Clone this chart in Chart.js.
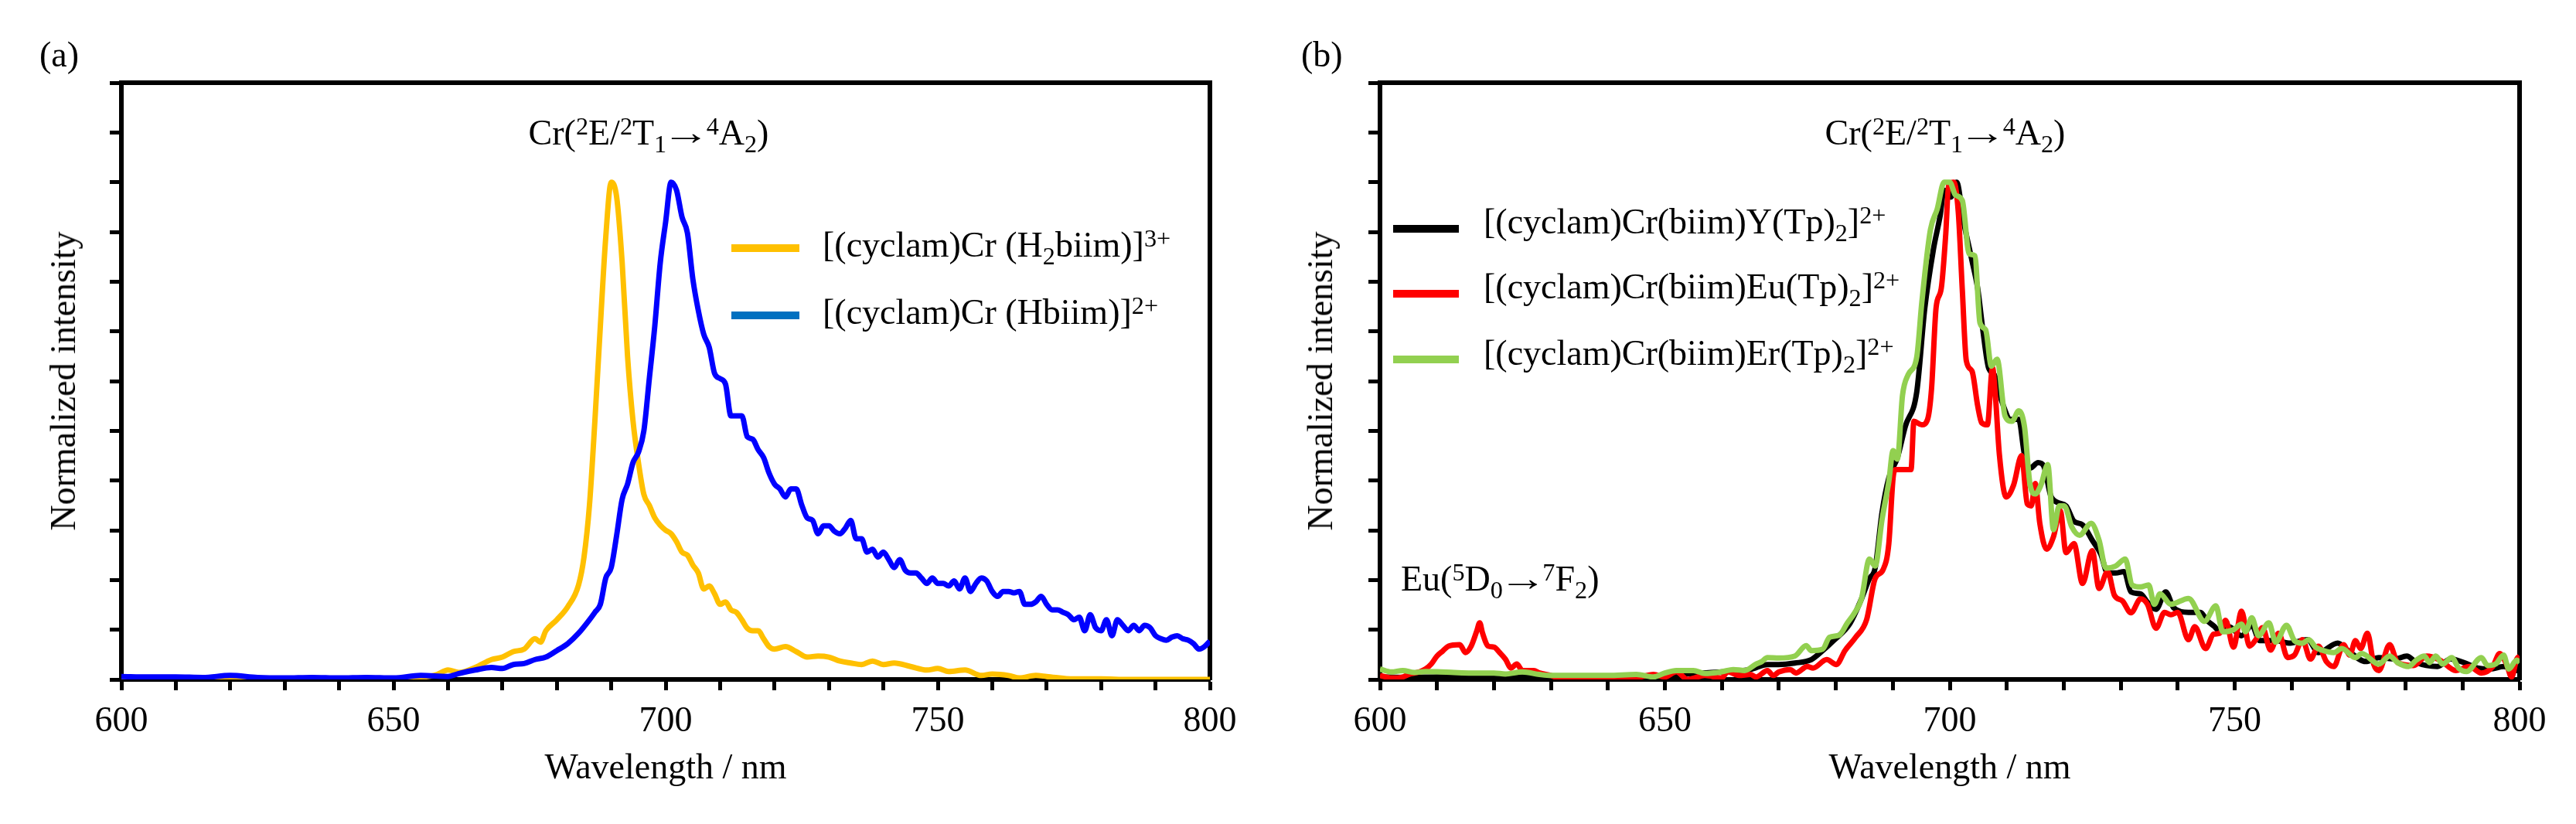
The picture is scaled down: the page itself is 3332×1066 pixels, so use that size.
<!DOCTYPE html>
<html><head><meta charset="utf-8">
<script src="https://cdn.jsdelivr.net/npm/chart.js@4.4.1/dist/chart.umd.min.js"></script>
<style>
html,body{margin:0;background:#fff;}
body{width:3332px;height:1066px;position:relative;overflow:hidden;font-family:'Times New Roman','Liberation Serif',serif;font-size:46px;color:#000;}
canvas{position:absolute;top:0;}
.t{position:absolute;line-height:1;white-space:nowrap;}
.t sup,.t sub{font-size:0.7em;vertical-align:baseline;position:relative;line-height:0;}
.t sup{top:-0.4em;}
.t sub{top:0.3em;}
.ar{display:inline-block;transform:scaleX(1.35);margin:0 0.06em;}
.c{transform:translateX(-50%);}
.yt{transform:translate(-50%,-50%) rotate(-90deg);}
.sw{position:absolute;height:10px;}
</style></head><body>
<canvas id="ca" width="1666" height="1066" style="left:0"></canvas>
<canvas id="cb" width="1666" height="1066" style="left:1666px"></canvas>

<!-- panel (a) texts -->
<div class="t" style="left:51px;top:48px">(a)</div>
<div class="t yt" style="left:82px;top:493px">Normalized intensity</div>
<div class="t c" style="left:839px;top:149px">Cr(<sup>2</sup>E/<sup>2</sup>T<sub>1</sub><span class="ar">→</span><sup>4</sup>A<sub>2</sub>)</div>
<div class="sw" style="left:946px;top:316px;width:88px;background:#FFC000"></div>
<div class="t" style="left:1064px;top:294px">[(cyclam)Cr (H<sub>2</sub>biim)]<sup>3+</sup></div>
<div class="sw" style="left:946px;top:403px;width:88px;background:#0070C0"></div>
<div class="t" style="left:1064px;top:381px">[(cyclam)Cr (Hbiim)]<sup>2+</sup></div>

<!-- panel (b) texts -->
<div class="t" style="left:1683px;top:48px">(b)</div>
<div class="t yt" style="left:1708px;top:493px">Normalized intensity</div>
<div class="t c" style="left:2516px;top:149px">Cr(<sup>2</sup>E/<sup>2</sup>T<sub>1</sub><span class="ar">→</span><sup>4</sup>A<sub>2</sub>)</div>
<div class="t" style="left:1812px;top:726px">Eu(<sup>5</sup>D<sub>0</sub><span class="ar">→</span><sup>7</sup>F<sub>2</sub>)</div>
<div class="sw" style="left:1802px;top:291px;width:85px;background:#000000"></div>
<div class="t" style="left:1919px;top:264px">[(cyclam)Cr(biim)Y(Tp)<sub>2</sub>]<sup>2+</sup></div>
<div class="sw" style="left:1802px;top:375px;width:85px;background:#FF0000"></div>
<div class="t" style="left:1919px;top:348px">[(cyclam)Cr(biim)Eu(Tp)<sub>2</sub>]<sup>2+</sup></div>
<div class="sw" style="left:1802px;top:460px;width:85px;background:#92D050"></div>
<div class="t" style="left:1919px;top:434px">[(cyclam)Cr(biim)Er(Tp)<sub>2</sub>]<sup>2+</sup></div>

<script>
// ── DATA (a) ─────────────────────────────────────
const wlH2biim = [600,610,620,630,640,650,655,658,660,662,
  665,668,670,672,674,676,677,678,680,682,
  684,685,686,687,688,689,690,691,692,693,
  694,695,696,697,698,699,700,701,702,703,
  704,705,706,707,708,709,710,711,712,713,
  714,715,716,717,718,719,720,722,724,726,
  728,730,732,734,736,738,740,742,745,748,
  750,752,755,758,760,763,765,768,770,775,
  780,785,790,800];
const intH2biim = [0,0.002,0,0.001,0,0.002,0.004,0.01,0.019,0.014,
  0.024,0.04,0.045,0.056,0.061,0.082,0.075,0.098,0.12,0.146,
  0.19,0.246,0.35,0.52,0.71,0.89,1.0,0.97,0.84,0.65,
  0.52,0.436,0.372,0.35,0.325,0.31,0.30,0.293,0.277,0.256,
  0.25,0.23,0.214,0.182,0.188,0.172,0.151,0.156,0.14,0.135,
  0.12,0.103,0.098,0.098,0.082,0.066,0.061,0.066,0.056,0.045,
  0.047,0.045,0.037,0.033,0.03,0.037,0.03,0.033,0.026,0.019,
  0.022,0.016,0.019,0.008,0.011,0.008,0.003,0.008,0.006,0.001,
  0.001,0,0,0];

const wlHbiim = [600,605,610,615,620,625,630,635,640,645,
  650,655,660,662,665,668,670,672,674,676,
  678,680,682,684,686,
  687,688,689,690,691,692,693,694,695,696,
  697,698,699,700,701,702,703,704,705,706,
  707,708,709,710,711,712,713,714,715,716,
  717,718,719,720,721,722,723,724,725,726,
  727,728,729,730,731,732,733,734,735,736,
  737,738,739,740,741,742,743,744,745,746,
  747,748,749,750,751,752,753,754,755,756,
  757,758,759,760,761,762,763,764,765,766,
  767,768,769,770,771,772,773,774,775,776,
  777,778,779,780,781,782,783,784,785,786,
  787,788,789,790,791,792,793,794,795,796,
  797,798,799,800];
const intHbiim = [0.006,0.005,0.005,0.004,0.008,0.004,0.003,0.004,0.003,0.004,
  0.003,0.008,0.006,0.012,0.019,0.024,0.022,0.03,0.032,0.04,
  0.045,0.058,0.072,0.093,0.12,
  0.135,0.151,0.204,0.225,0.29,0.362,0.393,0.436,0.457,0.50,
  0.605,0.71,0.837,0.92,1.0,0.984,0.93,0.898,0.805,0.742,
  0.694,0.668,0.615,0.605,0.594,0.53,0.53,0.53,0.488,0.483,
  0.462,0.446,0.415,0.393,0.383,0.367,0.383,0.383,0.351,0.325,
  0.32,0.293,0.309,0.309,0.298,0.293,0.304,0.32,0.283,0.283,
  0.256,0.262,0.246,0.256,0.241,0.225,0.241,0.22,0.214,0.214,
  0.204,0.193,0.204,0.193,0.193,0.188,0.198,0.182,0.204,0.177,
  0.193,0.204,0.198,0.177,0.167,0.177,0.177,0.174,0.177,0.151,
  0.151,0.156,0.167,0.151,0.14,0.14,0.135,0.13,0.12,0.125,
  0.098,0.13,0.104,0.098,0.12,0.088,0.12,0.109,0.098,0.109,
  0.098,0.109,0.104,0.088,0.082,0.079,0.085,0.088,0.082,0.079,
  0.072,0.061,0.066,0.077];

// ── DATA (b) ─────────────────────────────────────
const wlY = [600,605,610,615,620,625,630,635,640,645,
  650,655,660,665,668,670,672.8,675.7,677.7,679.6,
  682.5,684.5,685.9,686.9,688.1,689.3,690.8,692.2,694.2,695.6,
  697.1,698.3,699,700.2,701.2,702.4,703.9,704.9,705.8,706.8,
  707.8,709.2,710.7,712.1,713.1,714.1,715.5,716.5,717.7,718.9,
  720.4,721.8,723.3,725,726.5,727.7,729.1,730.6,731.8,733.5,
  734.7,736.2,737.9,739.3,741.9,744,745.1,746.5,747,749,
  751.2,753,754.4,757.2,759.5,762.8,764.7,768.1,769.8,773,
  775.3,778.1,780.2,781.9,785.6,787.9,790.2,792.6,794.9,797.2,
  799.5,800];
const intY = [0.005,0.004,0.005,0.005,0.006,0.005,0.004,0.004,0.005,0.006,
  0.008,0.012,0.015,0.02,0.03,0.03,0.033,0.04,0.058,0.078,
  0.113,0.162,0.203,0.224,0.335,0.405,0.446,0.509,0.578,0.745,
  0.863,0.932,0.984,0.97,1.0,0.922,0.842,0.786,0.703,0.627,
  0.613,0.557,0.523,0.523,0.453,0.425,0.436,0.429,0.37,0.356,
  0.349,0.318,0.311,0.28,0.252,0.214,0.214,0.217,0.176,0.172,
  0.155,0.141,0.176,0.144,0.135,0.135,0.119,0.106,0.1,0.106,
  0.088,0.109,0.078,0.078,0.073,0.08,0.054,0.073,0.059,0.036,
  0.044,0.041,0.047,0.034,0.026,0.041,0.034,0.023,0.021,0.026,
  0.018,0.026];

const wlEu = [600,602,604,605,607,608,609,610,611,612,
  614,615,616,617,617.5,618,619,620,621,622,
  623,624,625,627,628,630,632,635,638,640,
  642,645,648,650,652,654,657,660,661,663,
  665,666,668,669,670,672,673,675,676,678.4,
  680.1,681.6,683.5,685.4,686.9,688.3,689.3,690.05,690.5,693.2,
  693.7,695.1,696.1,696.8,697.6,698.5,699.3,699.8,700.7,701.5,
  702.2,702.9,703.9,704.9,705.6,706.6,707.5,708,708.7,709.9,
  711.2,712.6,713.6,714.3,715,715.8,717,718.2,719.4,720.4,
  721.8,723.3,725,726.2,727.7,728.9,730.3,731.8,733.5,734.7,
  736.2,737.7,738.8,740,741.9,743,744.9,746.3,747.4,748.4,
  749.8,751.2,752.6,753.7,754.9,756.3,757.7,759.3,760.5,761.9,
  763.3,764.7,766.1,767.4,769.1,770.2,771.2,772.1,773.3,774.4,
  775.3,777.2,778.6,781.4,783.7,786,788.8,791.2,793.3,795.3,
  796.5,797.7,798.6,799.5,800];
const intEu = [0.008,0.003,0.005,0.01,0.0155,0.021,0.031,0.047,0.057,0.067,
  0.07,0.054,0.067,0.098,0.114,0.093,0.067,0.065,0.054,0.041,
  0.023,0.031,0.018,0.018,0.013,0.008,0,0.003,0,0.005,
  0,0.003,0.01,0.005,0.0155,0,0.008,0.003,0.0155,0.008,
  0.01,0.005,0.018,0.008,0.015,0.02,0.013,0.026,0.023,0.04,
  0.03,0.058,0.085,0.12,0.203,0.221,0.273,0.405,0.422,0.422,
  0.519,0.512,0.523,0.585,0.748,0.786,0.897,0.995,1.0,0.939,
  0.783,0.641,0.62,0.55,0.516,0.512,0.627,0.571,0.453,0.367,
  0.391,0.45,0.353,0.349,0.394,0.314,0.262,0.287,0.339,0.255,
  0.273,0.193,0.259,0.183,0.217,0.169,0.158,0.134,0.162,0.151,
  0.103,0.135,0.13,0.135,0.08,0.106,0.062,0.091,0.093,0.119,
  0.065,0.137,0.067,0.08,0.104,0.059,0.093,0.044,0.049,0.08,
  0.041,0.067,0.036,0.026,0.07,0.049,0.078,0.062,0.093,0.031,
  0.018,0.07,0.034,0.028,0.047,0.039,0.018,0.026,0.013,0.026,
  0.052,0.031,0.005,0.041,0.047];

const wlEr = [600,602,604,606,608,610,613,616,620,622,
  625,628,630,635,640,645,648,650,652,655,
  657,660,662,664,666,667,668,670,672.8,674.8,
  675.7,677.7,678.9,680.6,682,683.3,684.5,685.9,686.9,688.1,
  689.3,690.05,690.8,691.7,692.7,694.2,695.1,696.6,697.8,699,
  700,701,702.2,703.4,704.4,705.3,706.3,707.3,708.3,709.7,
  710.9,712.1,713.1,714.1,715,716,717.2,718.2,719.2,720.1,
  721.4,722.8,724.8,726.2,727.4,729.1,730.8,732,733.5,734.9,
  735.9,736.9,738.8,741.9,744.7,746.7,747.9,749.8,751.2,751.9,
  753,754.2,756,757.2,759.1,760.5,761.9,763,764.2,765.3,
  767.4,768.8,771.2,772.3,775.3,777.2,778.6,780.5,781.9,783.3,
  784.2,785.3,786.5,788.1,789.3,790.7,793.3,794.4,795.8,797.2,
  798.1,799.5,800];
const intEr = [0.021,0.015,0.018,0.014,0.016,0.0155,0.014,0.013,0.013,0.011,
  0.015,0.01,0.008,0.008,0.008,0.01,0.005,0.013,0.018,0.018,
  0.012,0.0155,0.02,0.018,0.031,0.036,0.044,0.043,0.047,0.068,
  0.058,0.061,0.085,0.089,0.113,0.134,0.162,0.242,0.228,0.321,
  0.398,0.46,0.443,0.571,0.613,0.648,0.759,0.904,0.946,1.0,
  1.0,0.974,0.963,0.856,0.852,0.717,0.703,0.63,0.644,0.53,
  0.519,0.54,0.509,0.391,0.373,0.391,0.432,0.301,0.349,0.349,
  0.307,0.29,0.314,0.28,0.224,0.228,0.242,0.19,0.186,0.19,
  0.151,0.172,0.151,0.163,0.117,0.148,0.096,0.1,0.111,0.096,
  0.124,0.088,0.114,0.075,0.109,0.078,0.073,0.08,0.065,0.059,
  0.054,0.062,0.044,0.052,0.031,0.047,0.034,0.026,0.039,0.047,
  0.034,0.047,0.031,0.044,0.023,0.016,0.044,0.028,0.031,0.049,
  0.021,0.039,0.034];

// ── HELPERS ──────────────────────────────────────
const FONT = "'Times New Roman','Liberation Serif',serif";
const pts = (xs, ys) => xs.map((x, i) => ({x, y: ys[i]}));
const line = (label, xs, ys, color, order) => ({
  label, data: pts(xs, ys), borderColor: color, backgroundColor: color,
  borderWidth: 7, pointRadius: 0, cubicInterpolationMode: 'monotone',
  order, xAxisID: 'x', yAxisID: 'y',
});
const frame = {display: true, color: '#000', width: 6};

function panel(id, padL, padR, datasets) {
  return new Chart(document.getElementById(id), {
    type: 'line',
    data: {datasets},
    options: {
      responsive: false, animation: false,
      layout: {padding: {left: padL, right: padR, top: 107, bottom: 43}},
      plugins: {legend: {display: false}, tooltip: {enabled: false}},
      scales: {
        x: {
          type: 'linear', position: 'bottom', min: 600, max: 800,
          border: frame,
          grid: {drawOnChartArea: false, drawTicks: true, tickLength: 14, tickWidth: 5, tickColor: '#000'},
          ticks: {stepSize: 10, autoSkip: false, maxRotation: 0, padding: 13, color: '#000',
            font: {family: FONT, size: 46}, callback: v => v % 50 === 0 ? String(v) : ''},
          title: {display: true, text: 'Wavelength / nm', color: '#000', padding: 0, font: {family: FONT, size: 46}},
          afterFit: s => { s.height = 144; },
        },
        y: {
          type: 'linear', position: 'left', min: 0, max: 1.2,
          border: frame,
          grid: {drawOnChartArea: false, drawTicks: true, tickLength: 15, tickWidth: 5, tickColor: '#000'},
          ticks: {display: false, stepSize: 0.1},
          afterFit: s => { s.width = 45; },
        },
        xT: {
          type: 'linear', position: 'top', min: 600, max: 800,
          border: frame, grid: {display: false}, ticks: {display: false},
          afterFit: s => { s.height = 0; },
        },
        yR: {
          type: 'linear', position: 'right', min: 0, max: 1.2,
          border: frame, grid: {display: false}, ticks: {display: false},
          afterFit: s => { s.width = 45; },
        },
      },
    },
  });
}

// ── CHARTS ───────────────────────────────────────
panel('ca', 112, 56, [
  line('[(cyclam)Cr (H2biim)]3+', wlH2biim, intH2biim, '#FFC000', 2),
  line('[(cyclam)Cr (Hbiim)]2+', wlHbiim, intHbiim, '#0000FF', 1),
]);
panel('cb', 74, 28, [
  line('[(cyclam)Cr(biim)Y(Tp)2]2+', wlY, intY, '#000000', 3),
  line('[(cyclam)Cr(biim)Eu(Tp)2]2+', wlEu, intEu, '#FF0000', 2),
  line('[(cyclam)Cr(biim)Er(Tp)2]2+', wlEr, intEr, '#92D050', 1),
]);
</script>
</body></html>
